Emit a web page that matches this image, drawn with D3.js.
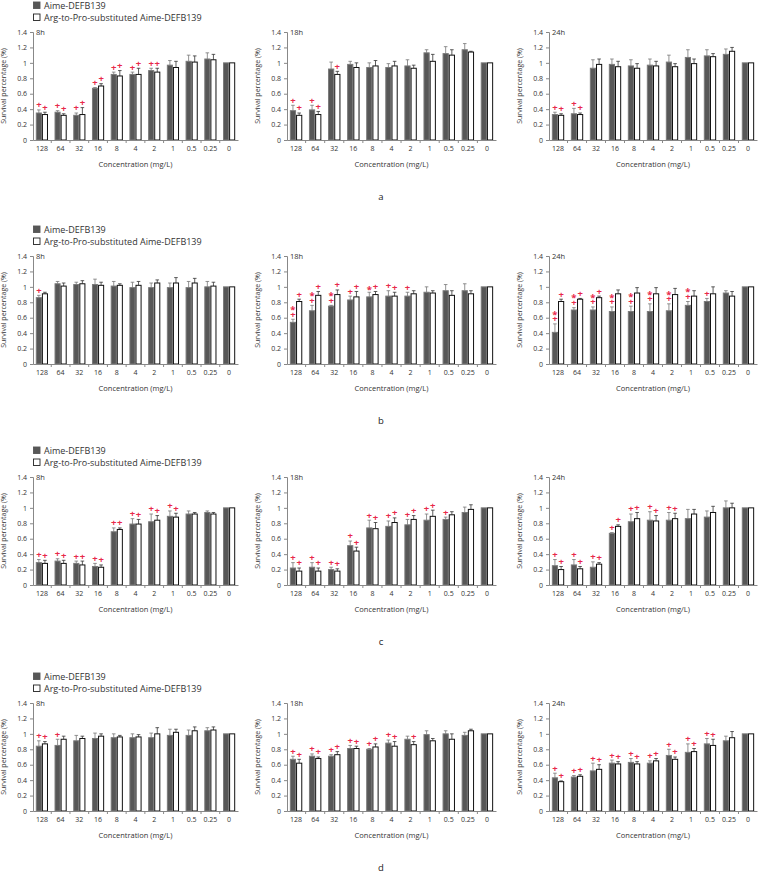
<!DOCTYPE html>
<html>
<head>
<meta charset="utf-8">
<script src="https://cdn.jsdelivr.net/npm/d3@7"></script>
<style>
  body { margin: 0; background: #fff; }
  text { font-family: "Open Sans", "DejaVu Sans", sans-serif; }
</style>
</head>
<body>
<svg id="chart" width="760" height="873"></svg>
<script>
const concentrations = ["128", "64", "32", "16", "8", "4", "2", "1", "0.5", "0.25", "0"];
const yTicks = [0, 0.2, 0.4, 0.6, 0.8, 1, 1.2, 1.4];
const seriesNames = ["Aime-DEFB139", "Arg-to-Pro-substituted Aime-DEFB139"];
const timeLabels = ["8h", "18h", "24h"];
const rowLetters = ["a", "b", "c", "d"];

// row a
const a8Aime = [0.35, 0.36, 0.32, 0.67, 0.85, 0.85, 0.90, 0.97, 1.02, 1.05, 1];
const a8AimeErr = [0.04, 0.02, 0.03, 0.01, 0.03, 0.03, 0.03, 0.06, 0.08, 0.08, 0];
const a8Arg = [0.33, 0.32, 0.33, 0.70, 0.83, 0.85, 0.88, 0.94, 1.01, 1.04, 1];
const a8ArgErr = [0.03, 0.02, 0.09, 0.03, 0.07, 0.08, 0.05, 0.08, 0.08, 0.07, 0];
const a8AimeSig = ["+", "+", "+", "+", "+", "+", "+", "", "", "", ""];
const a8ArgSig = ["+", "+", "+", "+", "+", "+", "+", "", "", "", ""];

const a18Aime = [0.38, 0.39, 0.92, 0.98, 0.94, 0.94, 0.96, 1.13, 1.12, 1.17, 1];
const a18AimeErr = [0.07, 0.06, 0.09, 0.04, 0.06, 0.05, 0.08, 0.04, 0.09, 0.08, 0];
const a18Arg = [0.32, 0.33, 0.85, 0.94, 0.96, 0.96, 0.93, 1.02, 1.10, 1.14, 1];
const a18ArgErr = [0.03, 0.04, 0.04, 0.06, 0.07, 0.06, 0.04, 0.09, 0.07, 0.01, 0];
const a18AimeSig = ["+", "+", "", "", "", "", "", "", "", "", ""];
const a18ArgSig = ["+", "+", "+", "", "", "", "", "", "", "", ""];

const a24Aime = [0.33, 0.34, 0.93, 0.98, 0.96, 0.97, 1.01, 1.07, 1.09, 1.11, 1];
const a24AimeErr = [0.03, 0.07, 0.11, 0.07, 0.08, 0.08, 0.09, 0.10, 0.08, 0.07, 0];
const a24Arg = [0.32, 0.33, 0.98, 0.95, 0.93, 0.96, 0.95, 0.99, 1.08, 1.15, 1];
const a24ArgErr = [0.02, 0.02, 0.07, 0.07, 0.06, 0.06, 0.04, 0.06, 0.04, 0.05, 0];
const a24AimeSig = ["+", "+", "", "", "", "", "", "", "", "", ""];
const a24ArgSig = ["+", "+", "", "", "", "", "", "", "", "", ""];

// row b
const b8Aime = [0.86, 1.04, 1.03, 1.03, 1.01, 0.99, 0.99, 0.99, 0.99, 1.00, 1];
const b8AimeErr = [0.03, 0.03, 0.03, 0.07, 0.06, 0.07, 0.06, 0.06, 0.08, 0.07, 0];
const b8Arg = [0.91, 1.01, 1.04, 1.02, 1.02, 1.02, 1.05, 1.05, 1.05, 1.01, 1];
const b8ArgErr = [0.02, 0.04, 0.04, 0.04, 0.02, 0.05, 0.04, 0.07, 0.06, 0.05, 0];
const b8AimeSig = ["+", "", "", "", "", "", "", "", "", "", ""];
const b8ArgSig = ["", "", "", "", "", "", "", "", "", "", ""];

const b18Aime = [0.54, 0.69, 0.75, 0.83, 0.87, 0.88, 0.88, 0.93, 0.95, 0.95, 1];
const b18AimeErr = [0.04, 0.07, 0.01, 0.05, 0.06, 0.07, 0.05, 0.07, 0.08, 0.09, 0];
const b18Arg = [0.81, 0.89, 0.90, 0.87, 0.90, 0.88, 0.91, 0.92, 0.89, 0.91, 1];
const b18ArgErr = [0.03, 0.05, 0.06, 0.07, 0.04, 0.05, 0.04, 0.03, 0.06, 0.04, 0];
const b18AimeSig = ["+*", "+*", "+*", "+", "*", "+", "+", "", "", "", ""];
const b18ArgSig = ["+", "+", "+", "+", "+", "+", "", "", "", "", ""];

const b24Aime = [0.41, 0.70, 0.70, 0.68, 0.68, 0.68, 0.69, 0.76, 0.81, 0.92, 1];
const b24AimeErr = [0.11, 0.03, 0.04, 0.06, 0.07, 0.10, 0.09, 0.05, 0.04, 0.03, 0];
const b24Arg = [0.81, 0.84, 0.86, 0.91, 0.92, 0.91, 0.90, 0.88, 0.91, 0.88, 1];
const b24ArgErr = [0.03, 0.01, 0.02, 0.05, 0.07, 0.08, 0.08, 0.07, 0.09, 0.06, 0];
const b24AimeSig = ["+*", "+*", "+*", "+*", "+*", "+*", "+*", "+*", "+", "", ""];
const b24ArgSig = ["+", "+", "+", "", "", "", "", "", "", "", ""];

// row c
const c8Aime = [0.29, 0.31, 0.28, 0.24, 0.69, 0.79, 0.82, 0.89, 0.92, 0.94, 1];
const c8AimeErr = [0.04, 0.03, 0.03, 0.04, 0.05, 0.07, 0.10, 0.07, 0.04, 0.02, 0];
const c8Arg = [0.28, 0.28, 0.26, 0.23, 0.72, 0.79, 0.84, 0.88, 0.92, 0.92, 1];
const c8ArgErr = [0.04, 0.04, 0.05, 0.03, 0.02, 0.06, 0.06, 0.05, 0.02, 0.02, 0];
const c8AimeSig = ["+", "+", "+", "+", "+", "+", "+", "+", "", "", ""];
const c8ArgSig = ["+", "+", "+", "+", "+", "+", "+", "+", "", "", ""];

const c18Aime = [0.22, 0.23, 0.20, 0.51, 0.74, 0.76, 0.78, 0.84, 0.85, 0.94, 1];
const c18AimeErr = [0.07, 0.06, 0.03, 0.06, 0.10, 0.07, 0.07, 0.08, 0.03, 0.07, 0];
const c18Arg = [0.18, 0.18, 0.18, 0.44, 0.73, 0.81, 0.85, 0.89, 0.91, 0.98, 1];
const c18ArgErr = [0.04, 0.04, 0.03, 0.05, 0.08, 0.06, 0.05, 0.08, 0.04, 0.06, 0];
const c18AimeSig = ["+", "+", "+", "+", "+", "+", "+", "+", "+", "", ""];
const c18ArgSig = ["+", "+", "+", "+", "+", "+", "+", "+", "", "", ""];

const c24Aime = [0.25, 0.26, 0.23, 0.67, 0.82, 0.84, 0.84, 0.86, 0.88, 1.00, 1];
const c24AimeErr = [0.08, 0.07, 0.07, 0.01, 0.10, 0.11, 0.10, 0.12, 0.08, 0.09, 0];
const c24Arg = [0.20, 0.21, 0.27, 0.76, 0.86, 0.83, 0.86, 0.92, 0.94, 1.00, 1];
const c24ArgErr = [0.04, 0.03, 0.02, 0.02, 0.08, 0.07, 0.07, 0.06, 0.08, 0.06, 0];
const c24AimeSig = ["+", "+", "+", "+", "+", "+", "+", "", "", "", ""];
const c24ArgSig = ["+", "+", "+", "+", "+", "+", "+", "", "", "", ""];

// row d
const d8Aime = [0.84, 0.85, 0.91, 0.94, 0.95, 0.95, 0.95, 0.98, 0.98, 1.04, 1];
const d8AimeErr = [0.07, 0.08, 0.07, 0.07, 0.05, 0.05, 0.06, 0.08, 0.07, 0.04, 0];
const d8Arg = [0.87, 0.93, 0.94, 0.97, 0.96, 0.96, 1.00, 1.02, 1.04, 1.05, 1];
const d8ArgErr = [0.03, 0.04, 0.03, 0.03, 0.02, 0.03, 0.08, 0.04, 0.05, 0.04, 0];
const d8AimeSig = ["+", "+", "", "", "", "", "", "", "", "", ""];
const d8ArgSig = ["+", "", "", "", "", "", "", "", "", "", ""];

const d18Aime = [0.67, 0.71, 0.71, 0.81, 0.80, 0.88, 0.93, 0.99, 1.00, 0.98, 1];
const d18AimeErr = [0.04, 0.03, 0.02, 0.04, 0.01, 0.04, 0.04, 0.05, 0.04, 0.04, 0];
const d18Arg = [0.62, 0.68, 0.73, 0.81, 0.83, 0.84, 0.86, 0.91, 0.93, 1.04, 1];
const d18ArgErr = [0.05, 0.02, 0.04, 0.03, 0.04, 0.06, 0.04, 0.03, 0.07, 0.02, 0];
const d18AimeSig = ["+", "+", "+", "+", "+", "+", "", "", "", "", ""];
const d18ArgSig = ["+", "+", "+", "+", "+", "+", "+", "", "", "", ""];

const d24Aime = [0.43, 0.44, 0.52, 0.62, 0.63, 0.62, 0.72, 0.76, 0.87, 0.91, 1];
const d24AimeErr = [0.06, 0.02, 0.10, 0.04, 0.05, 0.03, 0.08, 0.11, 0.07, 0.06, 0];
const d24Arg = [0.38, 0.45, 0.54, 0.61, 0.61, 0.65, 0.67, 0.77, 0.85, 0.95, 1];
const d24ArgErr = [0.01, 0.02, 0.06, 0.03, 0.03, 0.03, 0.03, 0.04, 0.08, 0.08, 0];
const d24AimeSig = ["+", "+", "+", "+", "+", "+", "+", "+", "+", "", ""];
const d24ArgSig = ["+", "+", "+", "+", "+", "+", "+", "+", "+", "", ""];

const panels = [
  [[a8Aime, a8AimeErr, a8Arg, a8ArgErr, a8AimeSig, a8ArgSig],
   [a18Aime, a18AimeErr, a18Arg, a18ArgErr, a18AimeSig, a18ArgSig],
   [a24Aime, a24AimeErr, a24Arg, a24ArgErr, a24AimeSig, a24ArgSig]],
  [[b8Aime, b8AimeErr, b8Arg, b8ArgErr, b8AimeSig, b8ArgSig],
   [b18Aime, b18AimeErr, b18Arg, b18ArgErr, b18AimeSig, b18ArgSig],
   [b24Aime, b24AimeErr, b24Arg, b24ArgErr, b24AimeSig, b24ArgSig]],
  [[c8Aime, c8AimeErr, c8Arg, c8ArgErr, c8AimeSig, c8ArgSig],
   [c18Aime, c18AimeErr, c18Arg, c18ArgErr, c18AimeSig, c18ArgSig],
   [c24Aime, c24AimeErr, c24Arg, c24ArgErr, c24AimeSig, c24ArgSig]],
  [[d8Aime, d8AimeErr, d8Arg, d8ArgErr, d8AimeSig, d8ArgSig],
   [d18Aime, d18AimeErr, d18Arg, d18ArgErr, d18AimeSig, d18ArgSig],
   [d24Aime, d24AimeErr, d24Arg, d24ArgErr, d24AimeSig, d24ArgSig]]
];

// layout
const colRanges = [[33, 238], [287, 496], [549, 757]];
const rowTops = [32, 256, 477, 703];
const plotH = 108;
const grayFill = "#575757";
const sigColor = "#e8294a";

const svg = d3.select("#chart");

rowTops.forEach((top, r) => {
  const bottom = top + plotH;
  const y = d3.scaleLinear().domain([0, 1.4]).range([bottom, top]);

  // legend above first column
  const lg = svg.append("g").attr("transform", `translate(${colRanges[0][0]},${top - 26.5})`);
  seriesNames.forEach((name, i) => {
    lg.append("rect")
      .attr("x", 0.5).attr("y", i * 12 - 3.5)
      .attr("width", 6.5).attr("height", 6.5)
      .attr("fill", i === 0 ? grayFill : "#fff")
      .attr("stroke", i === 0 ? grayFill : "#222")
      .attr("stroke-width", 0.9);
    lg.append("text")
      .attr("x", 11).attr("y", i * 12)
      .attr("dy", "0.35em")
      .attr("font-size", 9)
      .attr("fill", "#333")
      .text(name);
  });

  colRanges.forEach((cr, c) => {
    const [aime, aimeErr, arg, argErr, aimeSig, argSig] = panels[r][c];
    const x = d3.scaleBand().domain(concentrations).range(cr)
      .paddingInner(0.35).paddingOuter(0.15);
    const bw = x.bandwidth() / 2;
    const g = svg.append("g");

    // bars
    const series = [
      {vals: aime, errs: aimeErr, sig: aimeSig, off: 0, fill: grayFill, stroke: "#7a7a7a", errColor: "#777"},
      {vals: arg, errs: argErr, sig: argSig, off: bw, fill: "#fff", stroke: "#111", errColor: "#333"}
    ];
    series.forEach(s => {
      const bars = g.append("g").selectAll("g")
        .data(concentrations.map((k, i) => ({k, v: s.vals[i], e: s.errs[i], sig: s.sig[i]})))
        .join("g");

      bars.filter(d => d.e > 0).append("line")
        .attr("x1", d => x(d.k) + s.off + bw / 2)
        .attr("x2", d => x(d.k) + s.off + bw / 2)
        .attr("y1", d => y(d.v))
        .attr("y2", d => y(d.v + d.e))
        .attr("stroke", s.errColor).attr("stroke-width", 0.8);
      bars.filter(d => d.e > 0).append("line")
        .attr("x1", d => x(d.k) + s.off + bw / 2 - 1.8)
        .attr("x2", d => x(d.k) + s.off + bw / 2 + 1.8)
        .attr("y1", d => y(d.v + d.e))
        .attr("y2", d => y(d.v + d.e))
        .attr("stroke", s.errColor).attr("stroke-width", 0.8);

      bars.append("rect")
        .attr("x", d => x(d.k) + s.off + 0.5)
        .attr("y", d => y(d.v))
        .attr("width", bw - 1)
        .attr("height", d => y(0) - y(d.v))
        .attr("fill", s.fill)
        .attr("stroke", s.stroke)
        .attr("stroke-width", 1);

      // significance marks: "+" next to the bar, "*" stacked above it (one text, tspans)
      bars.filter(d => d.sig).each(function(d) {
        const cx = x(d.k) + s.off + bw / 2;
        const topY = y(d.v + d.e);
        const t = d3.select(this).append("text")
          .attr("text-anchor", "middle")
          .attr("font-size", 9.5)
          .attr("font-weight", "bold")
          .attr("fill", sigColor);
        d.sig.split("").forEach((ch, j) => {
          t.append("tspan")
            .attr("x", cx)
            .attr("y", topY - 5 - j * 7)
            .attr("dy", ch === "*" ? "0.6em" : "0.36em")
            .text(ch);
        });
      });
    });

    // y axis
    const ya = g.append("g")
      .attr("transform", `translate(${cr[0]},0)`)
      .call(d3.axisLeft(y).tickValues(yTicks).tickSize(3).tickFormat(d3.format("~g")));
    ya.select(".domain").attr("stroke", "#888");
    ya.selectAll(".tick line").attr("stroke", "#888");
    ya.selectAll(".tick text").attr("font-size", 7).attr("fill", "#333")
      .attr("font-family", "'Open Sans', sans-serif");

    // x axis
    const xa = g.append("g")
      .attr("transform", `translate(0,${bottom})`)
      .call(d3.axisBottom(x).tickSize(0).tickPadding(6));
    xa.select(".domain").attr("stroke", "#888");
    xa.selectAll(".tick text").attr("font-size", 7).attr("fill", "#333")
      .attr("font-family", "'Open Sans', sans-serif");
    const gap = (x.step() - x.bandwidth()) / 2;
    xa.selectAll("line.sep")
      .data(concentrations.slice(1))
      .join("line")
      .attr("class", "sep")
      .attr("x1", d => x(d) - gap).attr("x2", d => x(d) - gap)
      .attr("y1", 0).attr("y2", 3)
      .attr("stroke", "#888");

    // titles
    g.append("text")
      .attr("x", cr[0] + 3).attr("y", top + 3)
      .attr("font-size", 7.5).attr("fill", "#333")
      .text(timeLabels[c]);
    g.append("text")
      .attr("transform", `translate(${cr[0] - 27},${(top + bottom) / 2}) rotate(-90)`)
      .attr("text-anchor", "middle")
      .attr("font-size", 7).attr("fill", "#333")
      .text("Survival percentage (%)");
    g.append("text")
      .attr("x", (cr[0] + cr[1]) / 2).attr("y", bottom + 27)
      .attr("text-anchor", "middle")
      .attr("font-size", 7.5).attr("fill", "#333")
      .text("Concentration (mg/L)");
  });

  svg.append("text")
    .attr("x", 381).attr("y", bottom + 60)
    .attr("text-anchor", "middle")
    .attr("font-size", 9.5).attr("fill", "#222")
    .text(rowLetters[r]);
});
</script>
</body>
</html>
